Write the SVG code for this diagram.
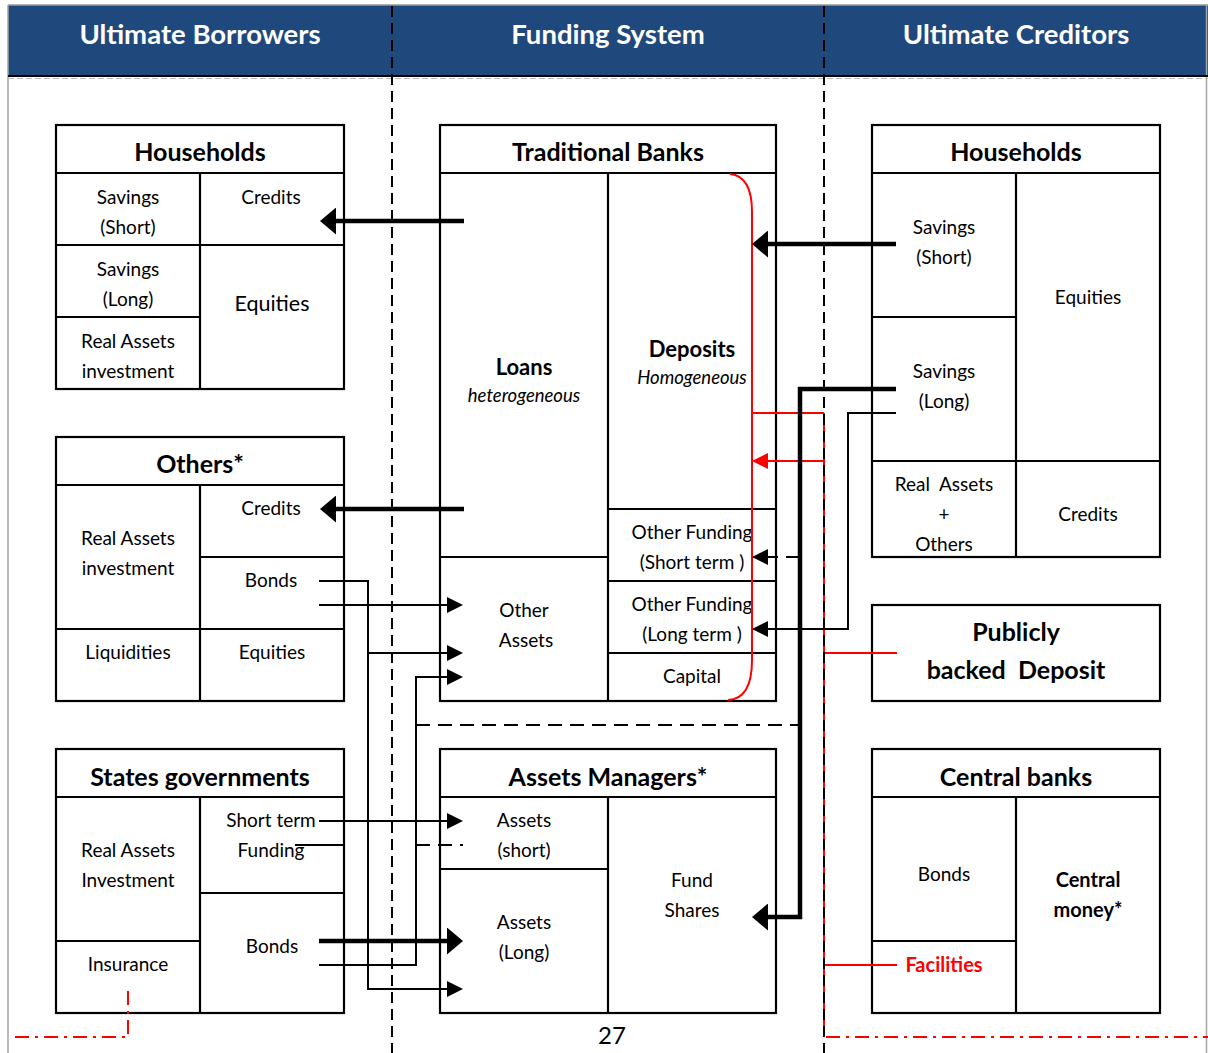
<svg xmlns="http://www.w3.org/2000/svg" width="1208" height="1053" viewBox="0 0 1208 1053">
  <style>
    text { font-family: Lato, "Liberation Sans", sans-serif; fill: #000; text-anchor: middle; }
    .hdr { font-size: 27.5px; font-weight: bold; fill: #fff; }
    .ttl { font-size: 25px; font-weight: bold; }
    .t { font-size: 19px; }
    .big { font-size: 21.5px; }
    .b { font-size: 22px; font-weight: bold; }
    .i { font-size: 18.5px; font-style: italic; }
    .sb { font-size: 20px; font-weight: bold; }
    .box { fill: #fff; stroke: #000; stroke-width: 2.2; }
    .div { stroke: #000; stroke-width: 2.2; fill: none; }
    .thin { stroke: #000; stroke-width: 2; fill: none; }
    .thick { stroke: #000; stroke-width: 4.5; fill: none; }
    .dash { stroke: #000; stroke-width: 2; fill: none; stroke-dasharray: 14 8; }
    .vdash { stroke: #000; stroke-width: 2; fill: none; stroke-dasharray: 11 6; }
    .red { stroke: #f00; stroke-width: 2; fill: none; }
    .reddd { stroke: #f00; stroke-width: 2; fill: none; stroke-dasharray: 14 6 3 6; }
  </style>
  <defs>
    <marker id="ah-thick" markerUnits="userSpaceOnUse" viewBox="0 0 16 27" markerWidth="16" markerHeight="27" refX="2" refY="13.5" orient="auto">
      <path d="M0,0 L16,13.5 L0,27 Z" fill="#000"/>
    </marker>
    <marker id="ah-thin" markerUnits="userSpaceOnUse" viewBox="0 0 16 16" markerWidth="16" markerHeight="16" refX="2" refY="8" orient="auto">
      <path d="M0,0 L16,8 L0,16 Z" fill="#000"/>
    </marker>
    <marker id="ah-red" markerUnits="userSpaceOnUse" viewBox="0 0 16 16" markerWidth="16" markerHeight="16" refX="2" refY="8" orient="auto">
      <path d="M0,0 L16,8 L0,16 Z" fill="#f00"/>
    </marker>
  </defs>

  <rect width="1208" height="1053" fill="#fff"/>

  <!-- page frame and column header band -->
  <g id="header">
    <rect x="8" y="5" width="1200" height="71" fill="#1f497d"/>
    <line x1="8" y1="5" x2="1208" y2="5" stroke="#9a9a9a" stroke-width="1.5"/>
    <line x1="8" y1="5" x2="8" y2="1053" stroke="#a6a6a6" stroke-width="1.5"/>
    <line x1="1206.5" y1="5" x2="1206.5" y2="1053" stroke="#a6a6a6" stroke-width="1.5"/>
    <line x1="8" y1="76" x2="1208" y2="76" stroke="#000" stroke-width="2"/>
    <line x1="8" y1="78.5" x2="1208" y2="78.5" stroke="#bbb" stroke-width="1" stroke-dasharray="6 3"/>
    <text class="hdr" x="200" y="44">Ultimate Borrowers</text>
    <text class="hdr" x="608" y="44">Funding System</text>
    <text class="hdr" x="1016" y="44">Ultimate Creditors</text>
  </g>

  <!-- left: households -->
  <g id="households-borrowers">
    <rect class="box" x="56" y="125" width="288" height="264"/>
    <path class="div" d="M56,173 H344 M200,173 V389 M56,245 H344 M56,317 H200"/>
    <text class="ttl" x="200" y="161">Households</text>
    <text class="t" x="128" y="204">Savings</text>
    <text class="t" x="128" y="234">(Short)</text>
    <text class="t" x="271" y="204">Credits</text>
    <text class="t" x="128" y="276">Savings</text>
    <text class="t" x="128" y="306">(Long)</text>
    <text class="t" x="128" y="348">Real Assets</text>
    <text class="t" x="128" y="378">investment</text>
    <text class="big" x="272" y="311">Equities</text>
  </g>

  <!-- left: others -->
  <g id="others">
    <rect class="box" x="56" y="437" width="288" height="264"/>
    <path class="div" d="M56,485 H344 M200,485 V701 M200,557 H344 M56,629 H344"/>
    <text class="ttl" x="200" y="473">Others*</text>
    <text class="t" x="271" y="515">Credits</text>
    <text class="t" x="128" y="545">Real Assets</text>
    <text class="t" x="128" y="575">investment</text>
    <text class="t" x="271" y="587">Bonds</text>
    <text class="t" x="128" y="659">Liquidities</text>
    <text class="t" x="272" y="659">Equities</text>
  </g>

  <!-- left: states governments -->
  <g id="states-governments">
    <rect class="box" x="56" y="749" width="288" height="264"/>
    <path class="div" d="M56,797 H344 M200,797 V1013 M200,893 H344 M56,941 H200"/>
    <text class="ttl" x="200" y="786">States governments</text>
    <text class="t" x="271" y="827">Short term</text>
    <text class="t" x="271" y="857">Funding</text>
    <text class="t" x="128" y="857">Real Assets</text>
    <text class="t" x="128" y="887">Investment</text>
    <text class="t" x="272" y="953">Bonds</text>
    <text class="t" x="128" y="971">Insurance</text>
  </g>

  <!-- centre: traditional banks -->
  <g id="traditional-banks">
    <rect class="box" x="440" y="125" width="336" height="576"/>
    <path class="div" d="M440,173 H776 M608,173 V701 M440,557 H608 M608,509 H776 M608,581 H776 M608,653 H776"/>
    <text class="ttl" x="608" y="161">Traditional Banks</text>
    <text class="b" x="524" y="375">Loans</text>
    <text class="i" x="524" y="402">heterogeneous</text>
    <text class="b" x="692" y="357">Deposits</text>
    <text class="i" x="692" y="384">Homogeneous</text>
    <text class="t" x="692" y="539">Other Funding</text>
    <text class="t" x="692" y="569">(Short term )</text>
    <text class="t" x="692" y="611">Other Funding</text>
    <text class="t" x="692" y="641">(Long term )</text>
    <text class="t" x="692" y="683">Capital</text>
    <text class="t" x="524" y="617">Other</text>
    <text class="t" x="526" y="647">Assets</text>
  </g>

  <!-- centre: asset managers -->
  <g id="assets-managers">
    <rect class="box" x="440" y="749" width="336" height="264"/>
    <path class="div" d="M440,797 H776 M608,797 V1013 M440,869 H608"/>
    <text class="ttl" x="608" y="786">Assets Managers*</text>
    <text class="t" x="524" y="827">Assets</text>
    <text class="t" x="524" y="857">(short)</text>
    <text class="t" x="524" y="929">Assets</text>
    <text class="t" x="524" y="959">(Long)</text>
    <text class="t" x="692" y="887">Fund</text>
    <text class="t" x="692" y="917">Shares</text>
  </g>

  <!-- right: households -->
  <g id="households-creditors">
    <rect class="box" x="872" y="125" width="288" height="432"/>
    <path class="div" d="M872,173 H1160 M1016,173 V557 M872,317 H1016 M872,461 H1160"/>
    <text class="ttl" x="1016" y="161">Households</text>
    <text class="t" x="944" y="234">Savings</text>
    <text class="t" x="944" y="264">(Short)</text>
    <text class="t" x="1088" y="304">Equities</text>
    <text class="t" x="944" y="378">Savings</text>
    <text class="t" x="944" y="408">(Long)</text>
    <text class="t" x="944" y="491" xml:space="preserve">Real  Assets</text>
    <text class="t" x="944" y="521">+</text>
    <text class="t" x="944" y="551">Others</text>
    <text class="t" x="1088" y="521">Credits</text>
  </g>

  <!-- right: publicly backed deposit -->
  <g id="publicly-backed-deposit">
    <rect class="box" x="872" y="605" width="288" height="96"/>
    <text class="ttl" x="1016" y="641">Publicly</text>
    <text class="ttl" x="1016" y="679" xml:space="preserve">backed  Deposit</text>
  </g>

  <!-- right: central banks -->
  <g id="central-banks">
    <rect class="box" x="872" y="749" width="288" height="264"/>
    <path class="div" d="M872,797 H1160 M1016,797 V1013 M872,941 H1016"/>
    <text class="ttl" x="1016" y="786">Central banks</text>
    <text class="t" x="944" y="881">Bonds</text>
    <text class="sb" x="944" y="972" style="fill:#f00">Facilities</text>
    <text class="sb" x="1088" y="887">Central</text>
    <text class="sb" x="1088" y="917">money*</text>
  </g>

  <!-- flows between sectors -->
  <g id="connectors">
    <!-- public guarantee (red) -->
    <path class="red" d="M730,174 Q752,176 752,212 V660 Q752,699 728,700"/>
    <line class="red" x1="824" y1="413" x2="824" y2="1037"/>
    <line class="red" x1="752" y1="413" x2="824" y2="413"/>
    <line class="red" x1="824" y1="461" x2="766" y2="461" marker-end="url(#ah-red)"/>
    <line class="red" x1="824" y1="653" x2="897" y2="653"/>
    <line class="red" x1="824" y1="965" x2="897" y2="965"/>
    <line class="reddd" x1="826" y1="1037" x2="1208" y2="1037"/>
    <path class="reddd" d="M15,1037 H128 V988"/>

    <!-- column separators -->
    <line class="vdash" x1="392" y1="6" x2="392" y2="1053"/>
    <line class="vdash" x1="824" y1="6" x2="824" y2="1053"/>

    <!-- bank credits to borrowers -->
    <line class="thick" x1="464" y1="221" x2="334" y2="221" marker-end="url(#ah-thick)"/>
    <line class="thick" x1="464" y1="509" x2="334" y2="509" marker-end="url(#ah-thick)"/>

    <!-- household savings -->
    <line class="thick" x1="896" y1="244" x2="766" y2="244" marker-end="url(#ah-thick)"/>
    <path class="thick" d="M896,389 H800 V917 H766" marker-end="url(#ah-thick)"/>
    <path class="thin" d="M896,413 H848 V629 H766" marker-end="url(#ah-thin)"/>
    <line class="dash" x1="800" y1="557" x2="766" y2="557" marker-end="url(#ah-thin)"/>
    <line class="dash" x1="416" y1="725" x2="800" y2="725"/>

    <!-- borrower securities to banks and asset managers -->
    <path class="thin" d="M319,581 H368 V989 H449" marker-end="url(#ah-thin)"/>
    <line class="thin" x1="368" y1="653" x2="449" y2="653" marker-end="url(#ah-thin)"/>
    <line class="thin" x1="319" y1="605" x2="449" y2="605" marker-end="url(#ah-thin)"/>
    <path class="thin" d="M319,965 H416 V677 H449" marker-end="url(#ah-thin)"/>
    <line class="thin" x1="319" y1="821" x2="449" y2="821" marker-end="url(#ah-thin)"/>
    <line class="thin" x1="295" y1="845" x2="344" y2="845"/>
    <line class="dash" x1="416" y1="845" x2="463" y2="845"/>
    <line class="thick" x1="319" y1="941" x2="449" y2="941" marker-end="url(#ah-thick)"/>
  </g>

  <text x="612" y="1044" style="font-size:24px">27</text>
</svg>
